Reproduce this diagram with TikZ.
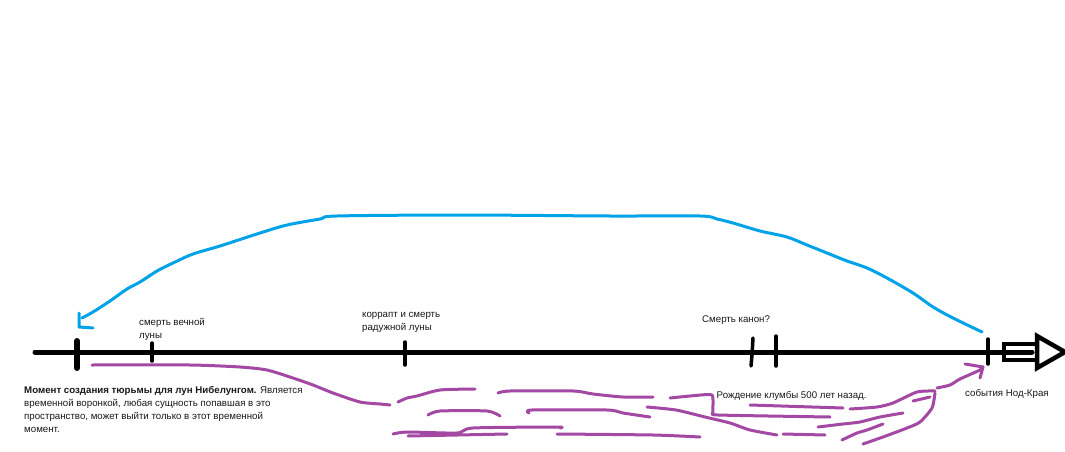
\documentclass[tikz,border=0pt]{standalone}
\usepackage{fontspec}
\setmainfont{Liberation Sans}
\definecolor{skyblue}{RGB}{0,162,232}
\definecolor{paintpurple}{RGB}{163,73,164}
\begin{document}
\begin{tikzpicture}[x=1pt,y=-1pt,
  lbl/.style={inner sep=0pt,align=left,font={\fontsize{9.7}{13}\selectfont},text=black!90},
  axisline/.style={line width=5pt,line cap=round},
  tick/.style={line width=3.5pt,line cap=round},
  blue/.style={skyblue,line width=3pt,line cap=round,line join=round},
  purp/.style={paintpurple,line width=3pt,line cap=round,line join=round}]
\useasboundingbox[fill=white] (0,0) rectangle (1065,452);

% axis
\coordinate (axL) at (35,352);
\coordinate (axR) at (1032,352);
\draw[axisline] (axL) -- (axR);
% block arrow head
\draw[line width=4.5pt,line join=miter] (1004,344) rectangle (1037,360);
\draw[line width=4.5pt,line join=miter,fill=white] (1037,336) -- (1065,352) -- (1037,368) -- cycle;
\draw[axisline,line cap=butt] (1000,352) -- (1032,352);

% ticks
\draw[line width=6pt,line cap=round] (77,341) -- (77,368);
\draw[tick] (152,343) -- (152,361);
\draw[tick] (405,342) -- (405,365);
\draw[tick] (753,338) -- (752,355) -- (751,366);
\draw[tick] (776,336) -- (776,366);
\draw[tick] (988,339) -- (988,364);

% labels
\node[lbl,anchor=north west] (tSmert) at (139,315.9) {\strut смерть вечной\\луны};
\node[lbl,anchor=north west] (tKorr) at (362,307.9) {\strut коррапт и смерть\\радужной луны};
\node[lbl,anchor=base west] (tKanon) at (702,322) {Смерть канон?};
\node[lbl,anchor=base west] (tNod) at (965,396) {события Нод-Края};
\node[lbl,anchor=north west] (tPara) at (24,383.9) {\strut\textbf{Момент создания тюрьмы для лун Нибелунгом.} Является\\временной воронкой, любая сущность попавшая в это\\пространство, может выйти только в этот временной\\момент.};

% purple scribbles
\draw[purp] plot[smooth,tension=0.4] coordinates {(92,365) (190,365) (240,367) (267,370) (293,378) (313,385) (333,393) (360,402) (380,404) (390,405)};
\draw[purp] plot[smooth,tension=0.4] coordinates {(398,402) (407,398) (417,396) (440,390) (475,389)};
\draw[purp] plot[smooth,tension=0.4] coordinates {(498,393) (510,391) (573,391) (593,394) (623,397) (653,397)};
\draw[purp] plot[smooth,tension=0.3] coordinates {(670,398) (690,396) (712,395) (713,412) (718,415) (830,417)};
\draw[purp] plot[smooth,tension=0.4] coordinates {(428,415) (440,411) (487,411) (500,416)};
\draw[purp] plot[smooth,tension=0.4] coordinates {(529,413) (532,410) (607,410) (623,413) (650,417)};
\draw[purp] plot[smooth,tension=0.4] coordinates {(647,407) (676,410) (705,417) (730,423) (750,430) (777,435)};
\draw[purp] plot[smooth,tension=0.4] coordinates {(393,434) (407,432) (457,433) (473,428) (557,427) (560,428)};
\draw[purp] (408,436) -- (507,434);
\draw[purp] plot[smooth,tension=0.4] coordinates {(557,434) (653,435) (700,437)};
\draw[purp] (783,434) -- (825,435);
\draw[purp] (750,405) -- (843,408);
\draw[purp] plot[smooth,tension=0.4] coordinates {(850,409) (877,407) (893,403) (917,392) (935,391)};
\draw[purp] (913,401) -- (930,397);
\draw[purp] plot[smooth,tension=0.4] coordinates {(935,393) (932,408) (920,422) (907,428) (883,437) (863,444)};
\draw[purp] plot[smooth,tension=0.4] coordinates {(818,427) (843,424) (860,422) (880,417) (903,413)};
\draw[purp] plot[smooth,tension=0.4] coordinates {(842,440) (857,433) (867,430) (883,424)};
\node[lbl,anchor=base west,fill=white,inner sep=0.5pt] (tKlumba) at (716,398) {Рождение клумбы 500 лет назад.};
\coordinate (pEnd) at (983,367);
\draw[purp] plot[smooth,tension=0.4] coordinates {(937,388) (950,385) (960,379) (980,370) (pEnd)};
\draw[purp] (965,364) -- (pEnd) -- (980,378);

% blue arc arrow
\coordinate (bStart) at (982,332);
\coordinate (bEnd) at (82,318);
\draw[blue] plot[smooth,tension=0.5] coordinates {(bStart) (953,318) (933,307) (913,293) (887,278) (867,268) (847,261) (827,253) (807,245) (787,237) (760,231) (733,223) (717,219) (700,216) (610,216) (460,215) (337,216) (320,219) (287,225) (260,233) (220,246) (193,254) (173,263) (157,271) (140,282) (127,289) (110,301) (93,312) (bEnd)};
\draw[blue] (79,313) -- (79,327) -- (93,328);
\end{tikzpicture}
\end{document}
